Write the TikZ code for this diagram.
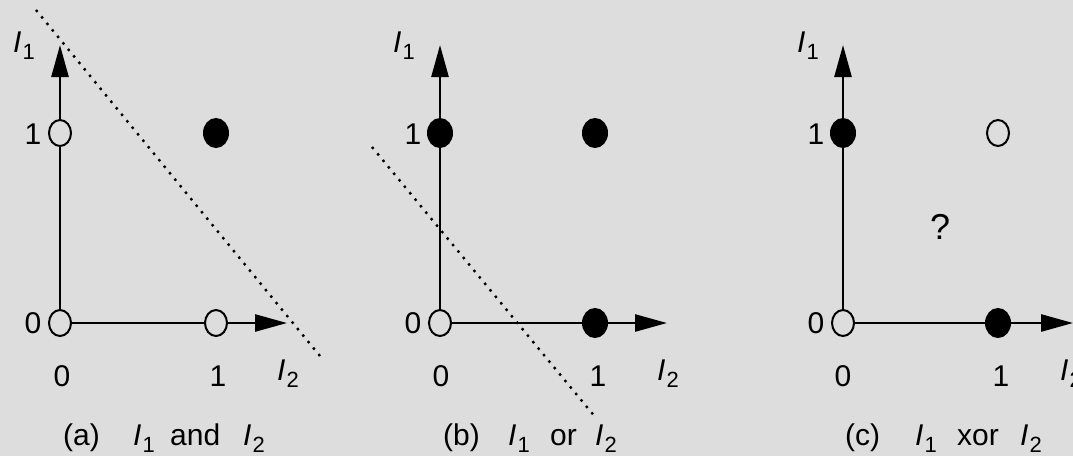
\documentclass[tikz,border=0pt]{standalone}
\usepackage{fontspec}
\setmainfont{Liberation Sans}
\usetikzlibrary{shapes.geometric,arrows.meta}
\definecolor{bg}{RGB}{221,221,221}
\newcommand\Isub[1]{\textit{I}\kern1pt\raisebox{-7pt}{\fontsize{22}{22}\selectfont #1}}
\tikzset{
  opendot/.style={ellipse, draw=black, line width=2pt, fill=bg, minimum width=22pt, minimum height=26pt, inner sep=0pt},
  fulldot/.style={ellipse, draw=black, line width=2pt, fill=black, minimum width=24pt, minimum height=28pt, inner sep=0pt},
  axisline/.style={line width=2.6pt},
  axisarrow/.style={line width=2.6pt, -{Triangle[length=32pt,width=17pt]}},
  sepline/.style={line width=2.4pt, dash pattern=on 2.4pt off 6pt},
  lbl/.style={font=\fontsize{30}{36}\selectfont, inner sep=0pt},
  qlbl/.style={font=\fontsize{36}{40}\selectfont, inner sep=0pt},
}
\begin{document}
\begin{tikzpicture}[x=1pt,y=-1pt]
\fill[bg] (0,0) rectangle (1073,456);
\clip (0,0) rectangle (1073,456);
% ---------- panel (a)
\node[opendot] (a00) at (60,323) {};
\node[opendot] (a01) at (60,133) {};
\node[opendot] (a10) at (216,323) {};
\node[fulldot] (a11) at (216,133) {};
\coordinate (aytip) at (60,45);
\coordinate (axtip) at (287,323);
\draw[axisline] (a00) -- (a01);
\draw[axisarrow] (a01) -- (aytip);
\draw[axisline] (a00) -- (a10);
\draw[axisarrow] (a10) -- (axtip);
\coordinate (asepA) at (36,10);
\coordinate (asepB) at (320,356);
\draw[sepline] (asepA) -- (asepB);
\node[lbl] (al1) at (33,134) {1};
\node[lbl] (al0) at (33,323) {0};
\node[lbl] (ab0) at (62,376) {0};
\node[lbl] (ab1) at (218,376) {1};
\node[lbl, anchor=base west] (aI1) at (13,52) {\Isub{1}};
\node[lbl, anchor=base west] (aI2) at (277,380) {\Isub{2}};
\node[lbl, anchor=base west] (acapA) at (63,445) {(a)};
\node[lbl, anchor=base west] (acapB) at (133,445) {\Isub{1}};
\node[lbl, anchor=base west] (acapC) at (170,445) {and};
\node[lbl, anchor=base west] (acapD) at (243,445) {\Isub{2}};
% ---------- panel (b)
\node[opendot] (b00) at (440,323) {};
\node[fulldot] (b01) at (440,133) {};
\node[fulldot] (b10) at (595,323) {};
\node[fulldot] (b11) at (595,133) {};
\coordinate (bytip) at (440,45);
\coordinate (bxtip) at (667,323);
\draw[axisline] (b00) -- (b01);
\draw[axisarrow] (b01) -- (bytip);
\draw[axisline] (b00) -- (b10);
\draw[axisarrow] (b10) -- (bxtip);
\coordinate (bsepA) at (372,147);
\coordinate (bsepB) at (596,418);
\draw[sepline] (bsepA) -- (bsepB);
\node[lbl] (bl1) at (413,134) {1};
\node[lbl] (bl0) at (413,323) {0};
\node[lbl] (bb0) at (441,376) {0};
\node[lbl] (bb1) at (598,376) {1};
\node[lbl, anchor=base west] (bI1) at (393,52) {\Isub{1}};
\node[lbl, anchor=base west] (bI2) at (657,380) {\Isub{2}};
\node[lbl, anchor=base west] (bcapA) at (443,445) {(b)};
\node[lbl, anchor=base west] (bcapB) at (508,445) {\Isub{1}};
\node[lbl, anchor=base west] (bcapC) at (550,445) {or};
\node[lbl, anchor=base west] (bcapD) at (595,445) {\Isub{2}};
% ---------- panel (c)
\node[opendot] (c00) at (843,323) {};
\node[fulldot] (c01) at (843,133) {};
\node[fulldot] (c10) at (998,323) {};
\node[opendot] (c11) at (998,133) {};
\coordinate (cytip) at (843,45);
\coordinate (cxtip) at (1073,323);
\draw[axisline] (c00) -- (c01);
\draw[axisarrow] (c01) -- (cytip);
\draw[axisline] (c00) -- (c10);
\draw[axisarrow] (c10) -- (cxtip);
\node[qlbl] (cq) at (940,227) {?};
\node[lbl] (cl1) at (816,134) {1};
\node[lbl] (cl0) at (816,323) {0};
\node[lbl] (cb0) at (843,376) {0};
\node[lbl] (cb1) at (1001,376) {1};
\node[lbl, anchor=base west] (cI1) at (797,52) {\Isub{1}};
\node[lbl, anchor=base west] (cI2) at (1060,380) {\Isub{2}};
\node[lbl, anchor=base west] (ccapA) at (845,445) {(c)};
\node[lbl, anchor=base west] (ccapB) at (915,445) {\Isub{1}};
\node[lbl, anchor=base west] (ccapC) at (957,445) {xor};
\node[lbl, anchor=base west] (ccapD) at (1020,445) {\Isub{2}};
\end{tikzpicture}
\end{document}
